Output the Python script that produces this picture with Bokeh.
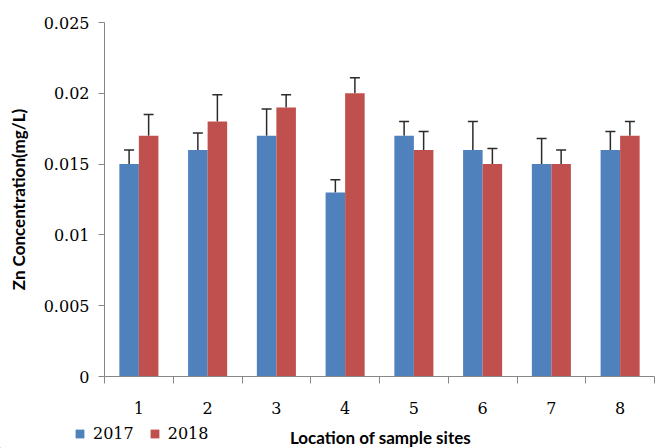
from bokeh.plotting import figure
from bokeh.layouts import column
from bokeh.models import (Range1d, FixedTicker, LinearAxis, Whisker, TeeHead,
                          ColumnDataSource, Legend, LegendItem, Label)
from bokeh.embed import file_html
from bokeh.resources import INLINE

sites = ["1", "2", "3", "4", "5", "6", "7", "8"]
zn_2017 = [0.015, 0.016, 0.017, 0.013, 0.017, 0.016, 0.015, 0.016]
zn_2018 = [0.017, 0.018, 0.019, 0.020, 0.016, 0.015, 0.015, 0.017]
err_2017 = [0.0010, 0.0012, 0.0019, 0.0009, 0.0010, 0.0020, 0.0018, 0.0013]
err_2018 = [0.0015, 0.0019, 0.0009, 0.0011, 0.0013, 0.0011, 0.0010, 0.0010]
y_ticks = [0, 0.005, 0.01, 0.015, 0.02, 0.025]
y_tick_labels = ["0", "0.005", "0.01", "0.015", "0.02", "0.025"]
series = ["2017", "2018"]
x_title = "Location of sample sites"
y_title = "Zn Concentration(mg/L)"

BLUE = "#4F81BD"
RED = "#C0504D"
TICK_FONT = "DejaVu Serif"
TITLE_FONT = "Lato"

W, H = 655, 448
H1 = 416
H2 = H - H1

n = len(sites)
centers = [i + 0.5 for i in range(n)]
bw = 0.284
off = 0.142

src17 = ColumnDataSource(dict(x=[c - off for c in centers], top=zn_2017,
                              upper=[v + e for v, e in zip(zn_2017, err_2017)]))
src18 = ColumnDataSource(dict(x=[c + off for c in centers], top=zn_2018,
                              upper=[v + e for v, e in zip(zn_2018, err_2018)]))

p = figure(width=W, height=H1, output_backend="svg", toolbar_location=None,
           x_range=Range1d(0, n), y_range=Range1d(0, 0.025),
           x_axis_location=None, y_axis_location=None,
           min_border_left=104, min_border_right=1, min_border_top=22,
           min_border_bottom=H1 - 377)
p.frame_align = False
p.outline_line_color = None
p.xgrid.visible = False
p.ygrid.visible = False
p.background_fill_color = "white"
p.border_fill_color = "white"

r17 = p.vbar(x="x", top="top", width=bw, bottom=0, source=src17, fill_color=BLUE, line_color=None)
r18 = p.vbar(x="x", top="top", width=bw, bottom=0, source=src18, fill_color=RED, line_color=None)

for src in (src17, src18):
    w = Whisker(base="x", lower="top", upper="upper", source=src,
                line_color="#2b2b2b", line_width=1.5,
                upper_head=TeeHead(size=10, line_color="#2b2b2b", line_width=1.5),
                lower_head=None)
    p.add_layout(w)

yax = LinearAxis(ticker=FixedTicker(ticks=y_ticks))
yax.major_label_overrides = {t: l for t, l in zip(y_ticks, y_tick_labels)}
yax.axis_line_color = "#868686"
yax.major_tick_line_color = "#868686"
yax.major_tick_out = 6
yax.major_tick_in = 0
yax.minor_tick_line_color = None
yax.major_label_standoff = 9
yax.major_label_text_font = TICK_FONT
yax.major_label_text_font_size = "16px"
yax.major_label_text_color = "black"
yax.axis_label = y_title
yax.axis_label_text_font = TITLE_FONT
yax.axis_label_text_font_style = "bold"
yax.axis_label_text_font_size = "17px"
yax.axis_label_text_color = "black"
yax.axis_label_standoff = 12
p.add_layout(yax, "left")

xax = LinearAxis(ticker=FixedTicker(ticks=centers, minor_ticks=list(range(n + 1))))
xax.major_label_overrides = {c: s for c, s in zip(centers, sites)}
xax.axis_line_color = "#868686"
xax.major_tick_line_color = None
xax.major_tick_out = 0
xax.major_tick_in = 0
xax.minor_tick_line_color = "#868686"
xax.minor_tick_out = 7
xax.minor_tick_in = 0
xax.major_label_standoff = 18
xax.major_label_text_font = TICK_FONT
xax.major_label_text_font_size = "16px"
xax.major_label_text_color = "black"
p.add_layout(xax, "below")

# bottom strip: legend and x-axis title
p2 = figure(width=W, height=H2, output_backend="svg", toolbar_location=None,
            x_range=Range1d(0, W), y_range=Range1d(0, H2),
            x_axis_location=None, y_axis_location=None,
            min_border_left=0, min_border_right=0, min_border_top=0, min_border_bottom=0)
p2.frame_align = False
p2.outline_line_color = None
p2.xgrid.visible = False
p2.ygrid.visible = False
p2.border_fill_color = "white"

# legend swatches (drawn outside the visible range; only used by the legend)
d17 = p2.vbar(x=[-100], top=[1], bottom=0, width=1, fill_color=BLUE, line_color=None)
d18 = p2.vbar(x=[-100], top=[1], bottom=0, width=1, fill_color=RED, line_color=None)

legend = Legend(items=[LegendItem(label=series[0], renderers=[d17]),
                       LegendItem(label=series[1], renderers=[d18])],
                location=(74, 5), orientation="horizontal",
                glyph_width=11, glyph_height=11, label_standoff=8, spacing=15,
                padding=0, margin=0, border_line_color=None,
                background_fill_alpha=0,
                label_text_font=TICK_FONT, label_text_font_size="16px",
                label_text_color="black")
p2.add_layout(legend, "center")

p2.add_layout(Label(x=380, y=1, text=x_title, text_align="center",
                    text_baseline="bottom", text_font=TITLE_FONT,
                    text_font_style="bold", text_font_size="17px", text_color="black"))

layout = column(p, p2, spacing=0)
open("out.html", "w").write(file_html(layout, INLINE))
